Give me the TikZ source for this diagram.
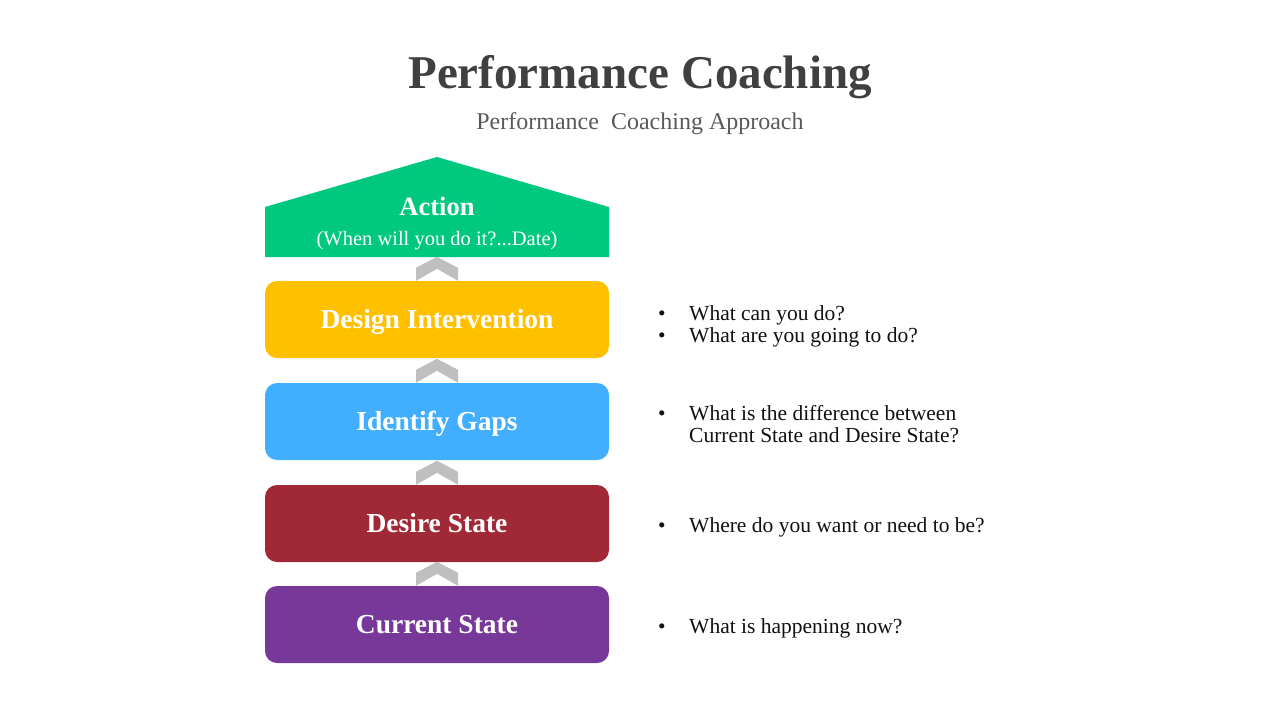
\documentclass[tikz,border=0pt]{standalone}
\usepackage{fontspec}
\setmainfont{Liberation Serif}
\definecolor{titlegray}{HTML}{404040}
\definecolor{subgray}{HTML}{595959}
\definecolor{actgreen}{HTML}{00C97F}
\definecolor{diyellow}{HTML}{FFC000}
\definecolor{gapblue}{HTML}{41AEFF}
\definecolor{desred}{HTML}{A12837}
\definecolor{curpurple}{HTML}{78389A}
\definecolor{chevgray}{HTML}{BFBFBF}
\definecolor{bultext}{HTML}{111111}
\tikzset{
  stagebox/.style={rounded corners=12pt, minimum width=344pt, minimum height=77pt, inner sep=0pt,
    text=white, font=\fontsize{27.5}{30}\selectfont\bfseries, text height=20pt, text depth=3pt},
  bulmark/.style={anchor=base, inner sep=0pt, text=bultext, font=\fontsize{21.5}{24}\selectfont},
  bultxt/.style={anchor=base west, inner sep=0pt, text=bultext, font=\fontsize{21.5}{24}\selectfont},
  chev/.pic={\fill[chevgray] (-21,0) -- (-21,-13) -- (0,-24) -- (21,-13) -- (21,0) -- (0,-12) -- cycle;}
}
\begin{document}
\begin{tikzpicture}[x=1pt,y=-1pt]
\useasboundingbox (0,0) rectangle (1280,720);
% title
\node[anchor=base, inner sep=0pt, text=titlegray, font=\fontsize{47}{50}\selectfont\bfseries] (title) at (640,88) {Performance Coaching};
\node[anchor=base, inner sep=0pt, text=subgray, font=\fontsize{24}{28}\selectfont] (subtitle) at (640,129) {Performance\ \ Coaching Approach};
% action pentagon
\coordinate (actbl) at (265,257);
\coordinate (actbr) at (609,257);
\fill[actgreen] (actbl) -- (265,207) -- (437,157) -- (609,207) -- (actbr) -- cycle;
\coordinate (actbot) at (437,257);
\node[anchor=base, inner sep=0pt, text=white, font=\fontsize{26.5}{30}\selectfont\bfseries] (act) at (437,215) {Action};
\node[anchor=base, inner sep=0pt, text=white, font=\fontsize{20.5}{24}\selectfont] (actsub) at (437,245) {(When will you do it?...Date)};
% stage boxes
\node[stagebox, fill=diyellow] (di) at (437,319.5) {Design Intervention};
\node[stagebox, fill=gapblue] (ig) at (437,421.5) {Identify Gaps};
\node[stagebox, fill=desred] (ds) at (437,523.5) {Desire State};
\node[stagebox, fill=curpurple] (cs) at (437,624.5) {Current State};
% chevrons
\pic at (di.north) {chev};
\pic at (ig.north) {chev};
\pic at (ds.north) {chev};
\pic at (cs.north) {chev};
% bullets
\node[bulmark] (b1) at (662,320) {•};
\node[bultxt] (t1) at (689,320) {What can you do?};
\node[bulmark] (b2) at (662,342) {•};
\node[bultxt] (t2) at (689,342) {What are you going to do?};
\node[bulmark] (b3) at (662,420) {•};
\node[bultxt] (t3) at (689,420) {What is the difference between};
\node[bultxt] (t3b) at (689,442) {Current State and Desire State?};
\node[bulmark] (b4) at (662,532) {•};
\node[bultxt] (t4) at (689,532) {Where do you want or need to be?};
\node[bulmark] (b5) at (662,633) {•};
\node[bultxt] (t5) at (689,633) {What is happening now?};
\end{tikzpicture}
\end{document}
